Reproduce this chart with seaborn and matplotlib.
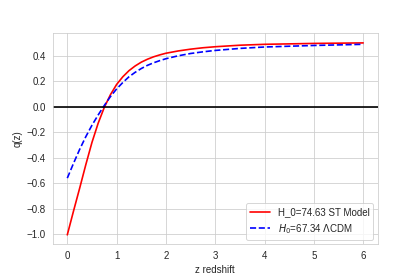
import pandas as pd
import numpy as np
import matplotlib
matplotlib.use("Agg")
import matplotlib.pyplot as plt
import seaborn as sns

# redshift samples
z = [0, 0.125, 0.25, 0.375, 0.5, 0.625, 0.75, 0.875, 1.0, 1.125, 1.25, 1.375,
     1.5, 1.625, 1.75, 1.875, 2.0, 2.25, 2.5, 2.75, 3.0, 3.5, 4.0, 5.0, 6.0]

# deceleration parameter, ST model (H0=74.63)
q_st = [-1.005, -0.82, -0.64, -0.455, -0.28, -0.13, -0.005, 0.095, 0.175, 0.235,
        0.283, 0.32, 0.35, 0.373, 0.392, 0.407, 0.42, 0.438, 0.452, 0.463,
        0.471, 0.483, 0.490, 0.497, 0.501]

# deceleration parameter, LCDM (H0=67.34)
q_lcdm = [-0.56, -0.445, -0.335, -0.235, -0.145, -0.065, 0.01, 0.08, 0.14, 0.19,
          0.235, 0.27, 0.30, 0.325, 0.345, 0.362, 0.377, 0.40, 0.418, 0.431,
          0.442, 0.458, 0.469, 0.481, 0.490]

label_st = "H_0=74.63 ST Model"
label_lcdm = r"$H_0$=67.34 $\Lambda$CDM"

df = pd.DataFrame({"z": z, "q_st": q_st, "q_lcdm": q_lcdm})

sns.set_style("whitegrid")
plt.rcParams["font.family"] = ["Liberation Sans", "DejaVu Sans"]
fig = plt.figure(figsize=(6, 4), dpi=70)
fig.subplots_adjust(bottom=0.127, top=0.881)
ax = sns.lineplot(x="z", y="q_st", data=df, color="red", linewidth=1.7, label=label_st)
sns.lineplot(x="z", y="q_lcdm", data=df, color="blue", linewidth=1.7,
             linestyle="--", label=label_lcdm, ax=ax)
ax.axhline(0, color="black", linewidth=1.7)
ax.set_xlabel("z redshift")
ax.set_ylabel("q(z)")
ax.legend(loc="lower right", frameon=True)
plt.savefig("out.png", dpi=70)
